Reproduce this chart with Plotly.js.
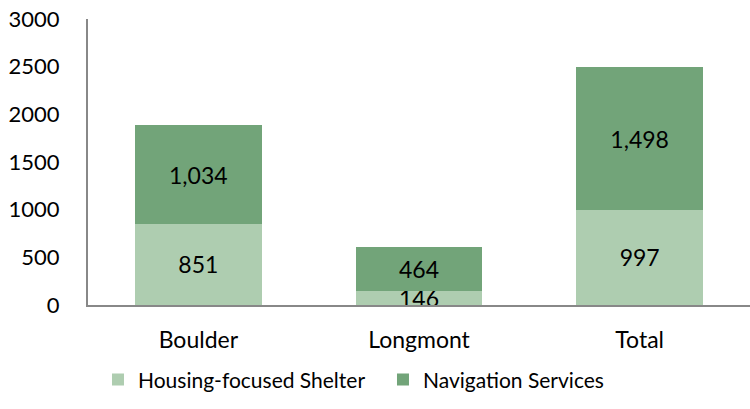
<!DOCTYPE html>
<html><head><meta charset="utf-8">
<script src="https://cdn.plot.ly/plotly-3.0.1.min.js"></script>
<style>html,body{margin:0;padding:0;background:#fff}</style>
</head><body>
<div id="chart" style="width:750px;height:409px"></div>
<script>
const categories = ["Boulder", "Longmont", "Total"];
const shelterValues = [851, 146, 997];
const navigationValues = [1034, 464, 1498];
const seriesNames = ["Housing-focused Shelter", "Navigation Services"];
const yTicks = [0, 500, 1000, 1500, 2000, 2500, 3000];

const font = "Lato, 'Open Sans', sans-serif";
const common = {
  type: "bar", x: categories, width: 0.575,
  texttemplate: "%{y:,}", textposition: "inside", insidetextanchor: "middle",
  constraintext: "none", cliponaxis: false,
  textfont: {family: font, size: 23, color: "#000"},
  hoverinfo: "skip"
};
const data = [
  Object.assign({}, common, {y: shelterValues, name: seriesNames[0], marker: {color: "#aecdb0"}}),
  Object.assign({}, common, {y: navigationValues, name: seriesNames[1], marker: {color: "#72a479"}})
];
const layout = {
  width: 750, height: 409,
  margin: {l: 88, r: 0, t: 19, b: 104},
  barmode: "stack",
  paper_bgcolor: "#fff", plot_bgcolor: "#fff",
  font: {family: font, size: 22, color: "#000"},
  showlegend: true,
  legend: {orientation: "h", x: 0.4456, xanchor: "center", y: -0.19, yanchor: "top",
           font: {family: font, size: 21, color: "#000"}, traceorder: "normal",
           itemwidth: 30, entrywidth: 240},
  xaxis: {showline: true, linecolor: "#888", linewidth: 2, ticks: "", showgrid: false,
          tickfont: {size: 23}, ticklabelstandoff: 13, fixedrange: true},
  yaxis: {range: [0, 3000], tickvals: yTicks, showline: true, linecolor: "#888", linewidth: 2,
          showgrid: false, zeroline: false, ticks: "", tickfont: {size: 22}, ticklabelstandoff: 22}
};
Plotly.newPlot("chart", data, layout, {displayModeBar: false, staticPlot: true});
</script>
</body></html>
